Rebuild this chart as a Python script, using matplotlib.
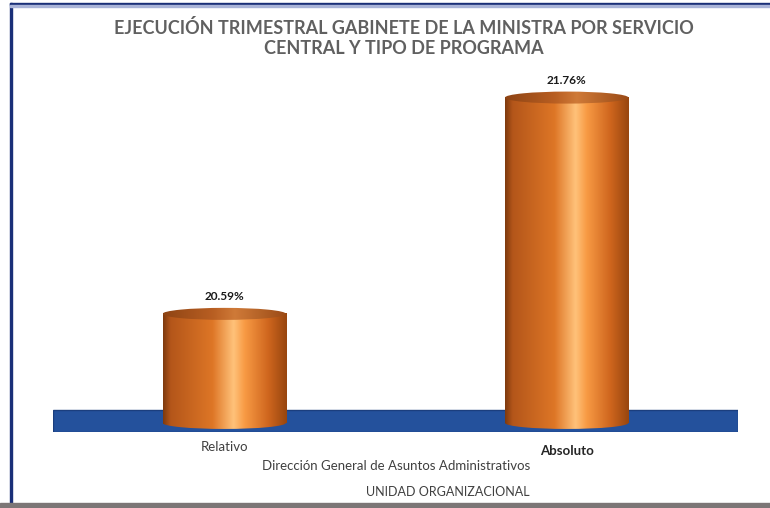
"""
Ejecucion trimestral Gabinete de la Ministra: cylinder-style bar chart
(Relativo vs Absoluto) with a blue floor slab, drawn with plain matplotlib.
"""

import numpy as np
import matplotlib
matplotlib.use("Agg")
import matplotlib.pyplot as plt
from matplotlib.colors import LinearSegmentedColormap
from matplotlib.patches import Ellipse, Rectangle

CATEGORIES = ["Relativo", "Absoluto"]
VALUES     = [20.59, 21.76]
LABELS     = ["20.59%", "21.76%"]
BASE       = 20.0

TITLE   = "EJECUCIÓN TRIMESTRAL GABINETE DE LA MINISTRA POR SERVICIO\nCENTRAL Y TIPO DE PROGRAMA"
XLABEL1 = "Dirección General de Asuntos Administrativos"
XLABEL2 = "UNIDAD ORGANIZACIONAL"

FONT = ["Lato", "DejaVu Sans"]
BAR_W = 0.36
ELL_H = 0.065

body_cmap = LinearSegmentedColormap.from_list("body", [
    (0.00, "#7e3a0e"), (0.06, "#b4561a"), (0.40, "#de7626"),
    (0.57, "#ffc27a"), (0.66, "#f89a44"), (0.85, "#cf661e"), (1.00, "#98460f"),
])
top_cmap = LinearSegmentedColormap.from_list("top", [
    (0.00, "#8e4414"), (0.40, "#b85e22"), (0.58, "#cf7a38"), (1.00, "#9a4a16"),
])


def draw_cylinder(ax, x, val):
    grad = np.linspace(0, 1, 256).reshape(1, -1)
    left, right = x - BAR_W / 2, x + BAR_W / 2

    # body
    ax.imshow(grad, cmap=body_cmap, extent=(left, right, BASE, val),
              aspect="auto", zorder=3, interpolation="bicubic")
    # rounded bottom
    bottom = Ellipse((x, BASE), BAR_W, ELL_H, transform=ax.transData)
    im = ax.imshow(grad, cmap=body_cmap, extent=(left, right, BASE - ELL_H, BASE + ELL_H),
                   aspect="auto", zorder=3, interpolation="bicubic")
    im.set_clip_path(bottom)
    # top cap
    top = Ellipse((x, val), BAR_W, ELL_H, transform=ax.transData)
    im = ax.imshow(grad, cmap=top_cmap, extent=(left, right, val - ELL_H, val + ELL_H),
                   aspect="auto", zorder=4, interpolation="bicubic")
    im.set_clip_path(top)


def main():
    fig = plt.figure(figsize=(7.7, 5.08), dpi=100)
    fig.patch.set_facecolor("white")

    # frame: blue line top/left, grey strip at the bottom
    fig.add_artist(Rectangle((0.013, 0.0), 0.003, 0.995, color="#1a2f78",
                             transform=fig.transFigure))
    fig.add_artist(Rectangle((0.013, 0.991), 0.987, 0.004, color="#1a2f78",
                             transform=fig.transFigure))
    fig.add_artist(Rectangle((0.013, 0.987), 0.987, 0.004, color="#aab4d8",
                             transform=fig.transFigure))
    fig.add_artist(Rectangle((0.0, 0.0), 1.0, 0.010, color="#7c7676",
                             transform=fig.transFigure))

    ax = fig.add_axes([0.0688, 0.1496, 0.8896, 0.73])
    ax.set_xlim(-0.5, 1.5)
    ax.set_ylim(19.951, 21.957)
    ax.axis("off")

    # floor slab
    ax.add_patch(Rectangle((-0.5, 19.951), 2.0, 0.119, facecolor="#24519c",
                           edgecolor="#1b3e7e", linewidth=1.0, zorder=2))

    for i, (val, lab) in enumerate(zip(VALUES, LABELS)):
        draw_cylinder(ax, i, val)
        ax.text(i, val + 0.065, lab, ha="center", va="bottom", fontsize=8.5,
                fontweight="bold", color="#1a1a1a", family=FONT, zorder=5)

    fig.text(404 / 770, 0.962, TITLE, ha="center", va="top", fontsize=13,
             fontweight="bold", color="#606060", family=FONT, linespacing=1.2)

    ax_frac = [0.0688 + 0.8896 * (i + 0.5) / 2 for i in range(len(CATEGORIES))]
    fig.text(ax_frac[0], 1 - 447 / 508, CATEGORIES[0], ha="center", va="center",
             fontsize=9.5, color="#404040", family=FONT)
    fig.text(ax_frac[1], 1 - 451 / 508, CATEGORIES[1], ha="center", va="center",
             fontsize=9.5, fontweight="bold", color="#262626", family=FONT)
    fig.text(396 / 770, 1 - 466 / 508, XLABEL1, ha="center", va="center",
             fontsize=9.5, color="#404040", family=FONT)
    fig.text(448 / 770, 1 - 492 / 508, XLABEL2, ha="center", va="center",
             fontsize=9, color="#404040", family=FONT)

    fig.savefig("out.png", dpi=100)
    plt.close(fig)


if __name__ == "__main__":
    main()
